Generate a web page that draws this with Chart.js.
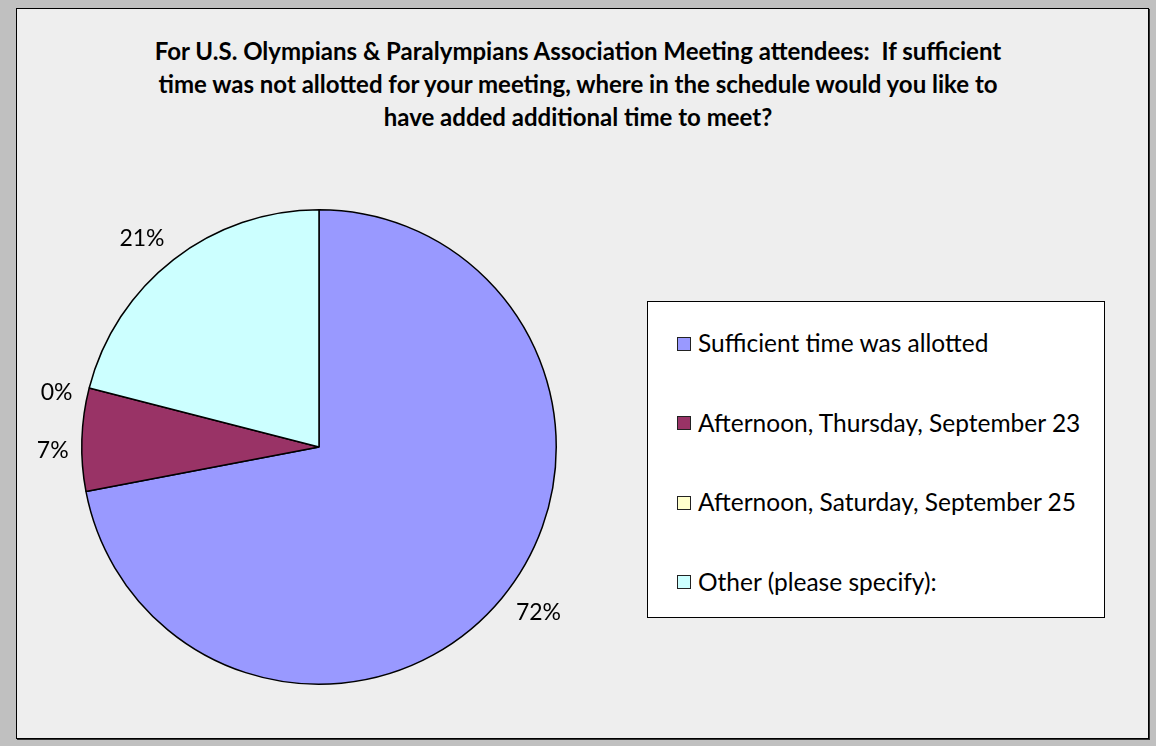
<!DOCTYPE html>
<html>
<head>
<meta charset="utf-8">
<script src="https://cdn.jsdelivr.net/npm/chart.js@4/dist/chart.umd.min.js"></script>
<style>
  html, body { margin:0; padding:0; }
  body { width:1156px; height:746px; background:#c0c0c0; position:relative; overflow:hidden; font-family:Lato, 'Open Sans', sans-serif; color:#000; }
  .frame { position:absolute; left:16px; top:8px; width:1131px; height:729px; background:#eeeeee; border:1px solid #000; box-shadow:1px 1px 0 #333; }
  .title { position:absolute; left:0; top:34px; width:1156px; text-align:center; font-weight:bold; font-size:24px; line-height:33px; }
  .pie { position:absolute; left:19px; top:147px; width:600px; height:600px; }
  .legend { position:absolute; left:647px; top:301px; width:456px; height:315px; background:#fff; border:1px solid #000; }
  .legend .item { position:absolute; left:29px; height:30px; line-height:30px; font-size:24.5px; white-space:nowrap; }
  .legend .sw { display:inline-block; width:12px; height:12px; border:1.5px solid #222; vertical-align:middle; margin-right:7px; position:relative; top:-2px; }
</style>
</head>
<body>
<div class="frame"></div>
<div class="title">For U.S. Olympians &amp; Paralympians Association Meeting attendees:&nbsp; If sufficient<br>time was not allotted for your meeting, where in the schedule would you like to<br>have added additional time to meet?</div>
<div class="pie"><canvas id="chartPie"></canvas></div>
<div class="legend" id="legend"></div>
<script>
  // categorías y porcentajes
  const labels = ['Sufficient time was allotted', 'Afternoon, Thursday, September 23', 'Afternoon, Saturday, September 25', 'Other (please specify):'];
  const values = [72, 7, 0, 21];
  const colors = ['#9999ff', '#993366', '#ffffcc', '#ccffff'];

  // leyenda en caja blanca
  const lg = document.getElementById('legend');
  labels.forEach((t, i) => {
    const d = document.createElement('div');
    d.className = 'item';
    d.style.top = (26 + i * 79.5) + 'px';
    d.innerHTML = '<span class="sw" style="background:' + colors[i] + '"></span>' + t;
    lg.appendChild(d);
  });

  // etiquetas de porcentaje fuera de cada porción
  const outLabels = {
    id: 'outLabels',
    afterDatasetsDraw(chart) {
      const ctx = chart.ctx;
      const meta = chart.getDatasetMeta(0);
      ctx.save();
      ctx.font = '23px Lato, "Open Sans", sans-serif';
      ctx.fillStyle = '#000';
      ctx.textAlign = 'center';
      ctx.textBaseline = 'middle';
      meta.data.forEach((arc, i) => {
        const txt = values[i] + '%';
        const a = (arc.startAngle + arc.endAngle) / 2 - 0.045;
        const hw = ctx.measureText(txt).width / 2, hh = 11;
        const d = arc.outerRadius + 13 + hw * Math.abs(Math.cos(a)) + hh * Math.abs(Math.sin(a));
        ctx.fillText(txt, arc.x + Math.cos(a) * d, arc.y + Math.sin(a) * d);
      });
      ctx.restore();
    }
  };

  new Chart(document.getElementById('chartPie'), {
    type: 'pie',
    data: { labels: labels, datasets: [{ data: values, backgroundColor: colors, borderColor: '#000', borderWidth: 1.5 }] },
    options: {
      responsive: true, maintainAspectRatio: false, animation: false,
      layout: { padding: 62 },
      plugins: { legend: { display: false }, tooltip: { enabled: false } }
    },
    plugins: [outLabels]
  });
</script>
</body>
</html>
